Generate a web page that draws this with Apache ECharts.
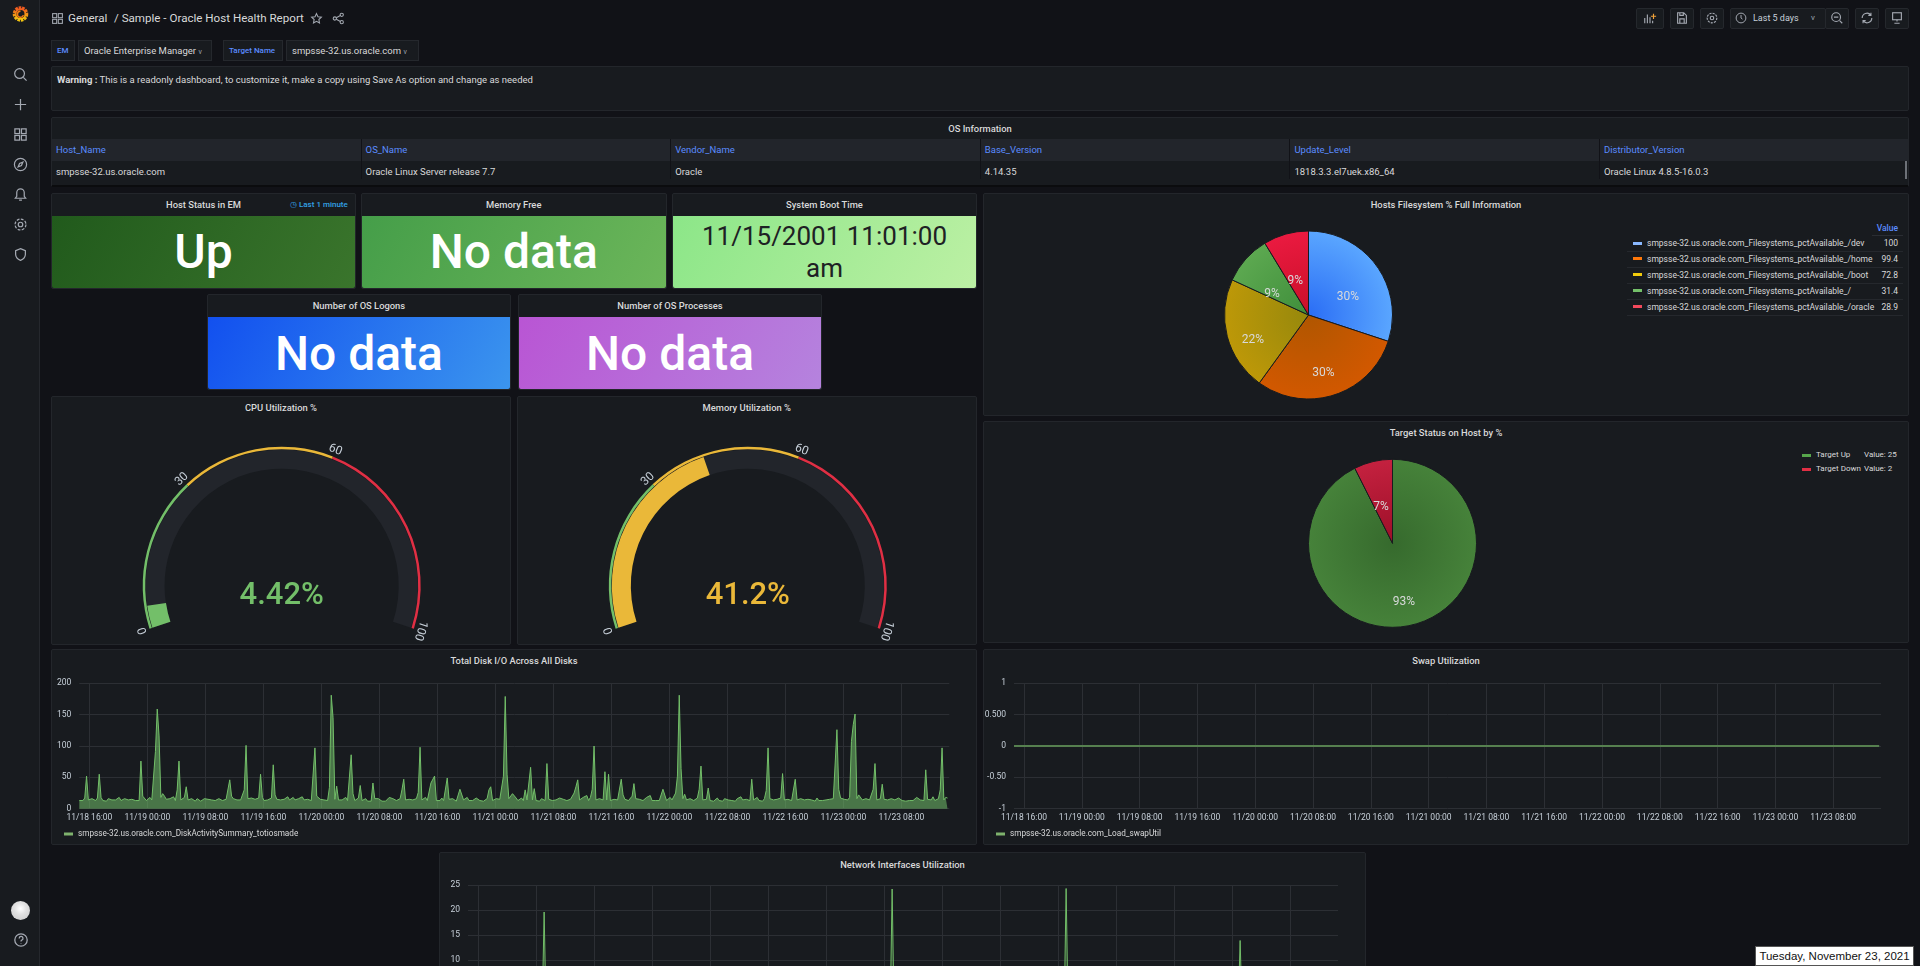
<!DOCTYPE html>
<html>
<head>
<meta charset="utf-8">
<title>Sample - Oracle Host Health Report</title>
<script src="https://cdn.jsdelivr.net/npm/echarts@6/dist/echarts.min.js"></script>
<style>
  html, body { margin: 0; padding: 0; width: 1920px; height: 966px; overflow: hidden; background: #111217; font-family: Roboto, sans-serif; color: #d8d9da; }
  .abs { position: absolute; box-sizing: border-box; white-space: nowrap; }
  .panel { position: absolute; box-sizing: border-box; background: #181b1f; border: 1px solid #23262b; border-radius: 2px; }
  .ptitle { position: absolute; left: 0; right: 0; text-align: center; font-size: 9.4px; font-weight: 500; color: #d8d9da; line-height: 12px; }
  .stat { position: absolute; left: 0; right: 0; bottom: 0; border-radius: 0 0 2px 2px; display: flex; align-items: center; justify-content: center; text-align: center; color: #fff; font-weight: 500; font-size: 48px; }
  .cell { position: absolute; font-size: 9.5px; line-height: 18px; white-space: nowrap; }
  .btn { position: absolute; top: 8px; height: 21px; background: #181b1f; border: 1px solid #25282d; box-sizing: border-box; border-radius: 2px; }
  .var { position: absolute; top: 40px; height: 21px; line-height: 19px; box-sizing: border-box; background: #181b1f; border: 1px solid #25282d; font-size: 9.5px; padding-left: 5px; white-space: nowrap; }
  svg { position: absolute; }
  svg.ic * { fill: none; stroke: #a4a9b2; stroke-width: 1.3; }
  #chart { position: absolute; left: 0; top: 0; width: 1920px; height: 966px; pointer-events: none; }
  .lg { position: absolute; font-size: 8.5px; line-height: 12px; white-space: nowrap; color: #d8d9da; }
</style>
</head>
<body>
<div id="page"></div>
<div id="chart"></div>
<script>
// chart data
var xTickLabels = ['11/18 16:00', '11/19 00:00', '11/19 08:00', '11/19 16:00', '11/20 00:00', '11/20 08:00', '11/20 16:00', '11/21 00:00', '11/21 08:00', '11/21 16:00', '11/22 00:00', '11/22 08:00', '11/22 16:00', '11/23 00:00', '11/23 08:00'];

var diskValues = [
  13, 14, 13, 17, 52, 14, 12, 16, 14, 13, 17, 55, 18, 13, 15, 12, 16, 13, 14, 13,
  14, 17, 18, 13, 15, 16, 13, 14, 12, 15, 16, 13, 15, 13, 76, 20, 18, 13, 15, 18,
  14, 13, 91, 159, 116, 18, 24, 20, 15, 13, 16, 18, 19, 13, 30, 76, 14, 13, 18, 35,
  14, 13, 16, 14, 12, 16, 13, 12, 14, 16, 17, 15, 13, 14, 16, 13, 12, 16, 14, 13,
  13, 15, 17, 46, 20, 16, 19, 14, 13, 14, 17, 30, 101, 16, 13, 17, 18, 15, 13, 17,
  55, 18, 13, 16, 14, 13, 17, 70, 22, 15, 13, 14, 13, 15, 16, 19, 14, 16, 18, 14,
  13, 16, 18, 19, 14, 13, 15, 16, 13, 13, 97, 20, 17, 15, 18, 14, 13, 13, 34, 181,
  145, 15, 36, 14, 13, 14, 17, 18, 13, 12, 86, 24, 13, 12, 17, 37, 13, 14, 16, 12,
  13, 12, 41, 16, 13, 16, 13, 12, 13, 12, 15, 18, 20, 16, 14, 13, 13, 16, 30, 47,
  14, 13, 15, 17, 14, 13, 16, 26, 98, 14, 13, 18, 13, 14, 41, 38, 52, 13, 16, 13,
  17, 13, 16, 49, 15, 13, 16, 13, 12, 14, 31, 28, 14, 16, 18, 13, 14, 13, 14, 17,
  16, 13, 15, 12, 13, 16, 30, 35, 13, 14, 16, 13, 15, 13, 52, 179, 55, 16, 18, 24,
  23, 17, 13, 15, 17, 13, 30, 14, 13, 66, 14, 32, 13, 15, 12, 16, 13, 13, 72, 15,
  14, 13, 16, 14, 13, 17, 18, 15, 16, 13, 12, 15, 17, 25, 35, 46, 14, 13, 18, 20,
  21, 13, 18, 31, 100, 14, 13, 16, 13, 14, 59, 14, 55, 13, 16, 15, 13, 14, 16, 47,
  22, 15, 14, 13, 12, 20, 40, 16, 13, 15, 14, 13, 16, 18, 15, 21, 13, 15, 13, 14,
  13, 14, 31, 28, 13, 15, 18, 14, 13, 25, 52, 181, 64, 16, 23, 14, 13, 16, 14, 13,
  14, 17, 31, 68, 14, 13, 15, 33, 13, 14, 12, 15, 17, 13, 14, 12, 16, 18, 14, 15,
  13, 14, 12, 16, 18, 19, 14, 13, 15, 14, 13, 47, 14, 15, 18, 13, 14, 12, 16, 29,
  97, 16, 18, 14, 13, 15, 13, 17, 56, 14, 13, 15, 14, 13, 16, 47, 14, 13, 16, 13,
  14, 13, 15, 16, 14, 13, 12, 17, 13, 15, 13, 16, 14, 12, 15, 13, 16, 14, 126, 31,
  17, 14, 15, 13, 14, 18, 107, 134, 151, 16, 22, 24, 14, 13, 16, 18, 14, 15, 31, 72,
  14, 13, 16, 39, 15, 13, 14, 12, 16, 13, 14, 16, 17, 14, 13, 15, 12, 14, 13, 13,
  13, 16, 18, 17, 14, 15, 13, 62, 15, 18, 14, 19, 13, 15, 16, 30, 97, 14, 18, 17
];

// sample numbers (15 minute steps) and values
var swapSamples = [0, 96, 192, 288, 384, 479];
var swapValues = [0, 0, 0, 0, 0, 0];
var netSamples = [0, 41, 42, 43, 233, 234, 235, 329, 330, 331, 425, 426, 427, 479];
var netValues = [1, 1, 19.6, 1, 1, 24.2, 1, 1, 24.3, 1, 1, 13.9, 1, 1];

var fsNames = ['smpsse-32.us.oracle.com_Filesystems_pctAvailable_/dev', 'smpsse-32.us.oracle.com_Filesystems_pctAvailable_/home', 'smpsse-32.us.oracle.com_Filesystems_pctAvailable_/boot', 'smpsse-32.us.oracle.com_Filesystems_pctAvailable_/', 'smpsse-32.us.oracle.com_Filesystems_pctAvailable_/oracle'];
var fsValues = [100, 99.4, 72.8, 31.4, 28.9];
var fsInner = ['#2a6df5', '#b05600', '#96880c', '#3f8e3b', '#c90f28'];
var fsOuter = ['#5aa6ff', '#d25800', '#bd9808', '#5ca850', '#ea1a40'];
var fsSwatch = ['#8ab8ff', '#ff780a', '#f2cc0c', '#73bf69', '#f2495c'];

var targetNames = ['Target Up', 'Target Down'];
var targetValues = [25, 2];
var targetInner = ['#366a2d', '#9c0f28'];
var targetOuter = ['#46823a', '#c4213f'];
var targetSwatch = ['#56a64b', '#e02f44'];

var gaugeTicks = [0, 30, 60, 100];
var gaugeSteps = [[0.3, '#73bf69'], [0.6, '#eab839'], [1, '#e02f44']];
var cpuValue = 4.42;
var memValue = 41.2;

var swapTickLabels = { '1': '1', '0.5': '0.500', '0': '0', '-0.5': '-0.50', '-1': '-1' };

var tableColumns = ['Host_Name', 'OS_Name', 'Vendor_Name', 'Base_Version', 'Update_Level', 'Distributor_Version'];
var tableRow = ['smpsse-32.us.oracle.com', 'Oracle Linux Server release 7.7', 'Oracle', '4.14.35', '1818.3.3.el7uek.x86_64', 'Oracle Linux 4.8.5-16.0.3'];

// page chrome
var html = '';
function panel(x, y, w, h, title, titleTop) {
  return '<div class="panel" style="left:' + x + 'px;top:' + y + 'px;width:' + w + 'px;height:' + h + 'px">' +
    (title ? '<div class="ptitle" style="top:' + (titleTop || 5) + 'px">' + title + '</div>' : '') + '</div>';
}
function statPanel(x, y, w, h, title, from, to, text, extra) {
  return '<div class="panel" style="left:' + x + 'px;top:' + y + 'px;width:' + w + 'px;height:' + h + 'px">' +
    '<div class="ptitle" style="top:5px">' + title + '</div>' +
    '<div class="stat" style="top:22px;background:linear-gradient(120deg,' + from + ',' + to + ');' + (extra || '') + '">' + text + '</div></div>';
}
function icon(x, y, s, body, cls) {
  return '<svg class="' + (cls || 'ic') + '" style="left:' + x + 'px;top:' + y + 'px" width="' + s + '" height="' + s + '" viewBox="0 0 16 16">' + body + '</svg>';
}

// sidebar
html += '<div class="abs" style="left:0;top:0;width:40px;height:966px;background:#181b1f;border-right:1px solid #25282d"></div>';
html += '<svg style="left:11px;top:4px" width="19" height="19" viewBox="0 0 20 20"><defs><linearGradient id="lg" x1="0" y1="1" x2="0" y2="0"><stop offset="0" stop-color="#f2c40f"/><stop offset="1" stop-color="#f0591f"/></linearGradient></defs><circle cx="10" cy="10.5" r="6.5" fill="none" stroke="url(#lg)" stroke-width="3.4" stroke-dasharray="2.6 0.9"/><circle cx="10" cy="10.5" r="5.2" fill="none" stroke="url(#lg)" stroke-width="2"/><path d="M10 7.5a3.2 3.2 0 1 0 3 4.2" fill="none" stroke="#f27b16" stroke-width="1.6"/></svg>';
html += icon(13, 67, 15, '<circle cx="7" cy="7" r="5.2"/><path d="M11 11l3.5 3.5"/>');
html += icon(13, 97, 15, '<path d="M8 2v12M2 8h12"/>');
html += icon(13, 127, 15, '<rect x="2" y="2" width="5" height="5"/><rect x="9" y="2" width="5" height="5"/><rect x="2" y="9" width="5" height="5"/><rect x="9" y="9" width="5" height="5"/>');
html += icon(13, 157, 15, '<circle cx="8" cy="8" r="6.5"/><path d="M10.5 5.5L9 9l-3.5 1.5L7 7z"/>');
html += icon(13, 187, 15, '<path d="M8 2a4 4 0 0 0-4 4v4l-1.5 2h11L12 10V6a4 4 0 0 0-4-4zM6.5 14h3"/>');
html += icon(13, 217, 15, '<circle cx="8" cy="8" r="2.4"/><circle cx="8" cy="8" r="5.8" stroke-dasharray="3 1.5"/>');
html += icon(13, 247, 15, '<path d="M8 1.8l5.2 2v4c0 3.4-2.3 5.4-5.2 6.4-2.9-1-5.2-3-5.2-6.4v-4z"/>');
html += '<div class="abs" style="left:11px;top:901px;width:19px;height:19px;border-radius:50%;background:radial-gradient(circle at 50% 40%,#fff 0,#e2e2e2 38%,#c8c8c8 100%)"></div>';
html += icon(13, 932, 16, '<circle cx="8" cy="8" r="6.2"/><path d="M6.2 6.4a1.9 1.9 0 1 1 2.6 1.7c-.6.3-.8.6-.8 1.3M8 11.2v.6"/>');

// top bar
html += icon(51, 12, 13, '<rect x="2" y="2" width="5" height="5"/><rect x="9" y="2" width="5" height="5"/><rect x="2" y="9" width="5" height="5"/><rect x="9" y="9" width="5" height="5"/>');
html += '<div class="abs" style="left:68px;top:11px;font-size:11.6px;line-height:14px;color:#d8d9da">General</div>';
html += '<div class="abs" style="left:114px;top:11px;font-size:11.6px;line-height:14px;color:#d8d9da">/ Sample - Oracle Host Health Report</div>';
html += icon(310, 12, 13, '<path d="M8 2l1.8 3.9 4.2.5-3.100 2.900.8 4.200L8 11.400 4.300 13.500l.8-4.200L2 6.400l4.200-.5z"/>');
html += icon(332, 12, 13, '<circle cx="3.500" cy="8" r="2"/><circle cx="12" cy="3.500" r="2"/><circle cx="12" cy="12.500" r="2"/><path d="M5.300 7l5-2.600M5.300 9l5 2.600"/>');
html += '<div class="btn" style="left:1636px;width:28px"></div>' + icon(1643, 11, 14, '<path d="M2 14V8M5 14V4M8 14V7M11 14v-3" /><path d="M12 3v6M9 6h6" style="stroke:#f2a33a"/>');
html += '<div class="btn" style="left:1670px;width:24px"></div>' + icon(1675, 11, 14, '<path d="M3 2h7l3 3v9H3zM5.500 2v3h4V2M5.500 14v-5h5v5"/>');
html += '<div class="btn" style="left:1700px;width:24px"></div>' + icon(1705, 11, 14, '<circle cx="8" cy="8" r="2"/><circle cx="8" cy="8" r="5.500" stroke-dasharray="2.500 1.200"/>');
html += '<div class="btn" style="left:1730px;width:96px"></div>' + icon(1735, 12, 12, '<circle cx="8" cy="8" r="6.500"/><path d="M8 4v4l2 1.500"/>');
html += '<div class="abs" style="left:1753px;top:13px;font-size:9px;line-height:11px;color:#c7d0d9">Last 5 days</div>';
html += '<div class="abs" style="left:1811px;top:13px;font-size:8px;line-height:10px;color:#9fa7b3">v</div>';
html += '<div class="btn" style="left:1825px;width:24px"></div>' + icon(1830, 11, 14, '<circle cx="7" cy="7" r="5"/><path d="M4.500 7h5M11 11l3 3"/>');
html += '<div class="btn" style="left:1855px;width:24px"></div>' + icon(1860, 11, 14, '<path d="M13.500 8a5.500 5.500 0 0 1-9.800 3.400M2.500 8a5.500 5.500 0 0 1 9.800-3.400M12.500 2v3h-3M3.500 14v-3h3"/>');
html += '<div class="btn" style="left:1885px;width:24px"></div>' + icon(1890, 11, 14, '<rect x="3" y="2" width="10" height="8"/><path d="M8 10v2M5 14h6"/>');

// template variables
html += '<div class="var" style="left:51px;width:24px;color:#5b8cff;font-weight:500;font-size:8px">EM</div>';
html += '<div class="var" style="left:78px;width:134px">Oracle Enterprise Manager <span style="font-size:7px;color:#9fa7b3">v</span></div>';
html += '<div class="var" style="left:223px;width:60px;color:#5b8cff;font-weight:500;font-size:8px">Target Name</div>';
html += '<div class="var" style="left:286px;width:133px">smpsse-32.us.oracle.com <span style="font-size:7px;color:#9fa7b3">v</span></div>';

// warning text
html += panel(51, 66, 1858, 45);
html += '<div class="abs" style="left:57px;top:74px;font-size:9.5px;line-height:12px;color:#d8d9da"><b style="font-weight:700">Warning :</b> This is a readonly dashboard, to customize it, make a copy using Save As option and change as needed</div>';

// os information table
html += panel(51, 117, 1858, 70, 'OS Information', 5);
html += '<div class="abs" style="left:52px;top:139px;width:1856px;height:22px;background:#22252b"></div>';
html += '<div class="abs" style="left:52px;top:185px;width:1856px;height:2px;background:#0b0c0e"></div>';
tableColumns.forEach(function (c, i) {
  var x = 51 + i * 309.6;
  if (i > 0) html += '<div class="abs" style="left:' + x + 'px;top:139px;width:1px;height:40px;background:#111217"></div>';
  html += '<div class="cell" style="left:' + (x + 5) + 'px;top:141px;color:#5b8cff">' + c + '</div>';
  html += '<div class="cell" style="left:' + (x + 5) + 'px;top:163px;color:#d8d9da">' + tableRow[i] + '</div>';
});
html += '<div class="abs" style="left:1905px;top:161px;width:2px;height:18px;background:#6d7178"></div>';

// stat panels
html += statPanel(51, 193, 305, 96, 'Host Status in EM', '#215a1c', '#3a752c', 'Up', 'padding-bottom:2px;');
html += '<div class="abs" style="left:290px;top:200px;font-size:8px;line-height:10px;font-weight:500;color:#33a2e5">&#9719; Last 1 minute</div>';
html += statPanel(361, 193, 305.5, 96, 'Memory Free', '#459e49', '#6cb65a', 'No data', 'padding-bottom:2px;');
html += statPanel(672, 193, 305, 96, 'System Boot Time', '#8ce688', '#bcf0a4', '11/15/2001 11:01:00<br>am', 'color:#1e2124;font-size:26px;font-weight:400;line-height:32px;');
html += statPanel(206.7, 294, 304.5, 96, 'Number of OS Logons', '#1250ef', '#3b95ee', 'No data');
html += statPanel(518, 294, 304, 96, 'Number of OS Processes', '#b955d4', '#b583de', 'No data');

// chart panels
html += panel(983, 193, 926, 223, 'Hosts Filesystem % Full Information');
html += panel(51, 396, 460, 249, 'CPU Utilization %', 5);
html += panel(516.5, 396, 460.5, 249, 'Memory Utilization %', 5);
html += panel(983, 421, 926, 222, 'Target Status on Host by %', 5);
html += panel(51, 649, 926, 196, 'Total Disk I/O Across All Disks', 5);
html += panel(983, 649, 926, 196, 'Swap Utilization', 5);
html += panel(439, 852, 927, 200, 'Network Interfaces Utilization', 6);

// pie legends
html += '<div class="lg" style="right:22px;top:222px;color:#5b8cff;font-weight:500">Value</div>';
html += '<div class="abs" style="left:1872px;top:235px;width:31px;height:1px;background:#2a2d33"></div>';
fsNames.forEach(function (n, i) {
  var y = 237 + i * 15.9;
  html += '<div class="abs" style="left:1633px;top:' + (y + 4.5) + 'px;width:9px;height:3px;background:' + fsSwatch[i] + '"></div>';
  html += '<div class="lg" style="left:1647px;top:' + y + 'px">' + n + '</div>';
  html += '<div class="lg" style="right:22px;top:' + y + 'px">' + fsValues[i] + '</div>';
  html += '<div class="abs" style="left:1627px;top:' + (y + 14) + 'px;width:276px;height:1px;background:#25282d"></div>';
});
targetNames.forEach(function (n, i) {
  var y = 449 + i * 14;
  html += '<div class="abs" style="left:1802px;top:' + (y + 4.5) + 'px;width:9px;height:3px;background:' + targetSwatch[i] + '"></div>';
  html += '<div class="lg" style="left:1816px;top:' + y + 'px;font-size:8px">' + n + '</div>';
  html += '<div class="lg" style="left:1864px;top:' + y + 'px;font-size:8px">Value: ' + targetValues[i] + '</div>';
});

// date popup
html += '<div class="abs" style="left:1755px;top:946px;width:159px;height:20px;background:#fff;border:1px solid #555;color:#111;font-family:\'Liberation Sans\',sans-serif;font-size:11.5px;line-height:18px;text-align:center">Tuesday, November 23, 2021</div>';
document.getElementById('page').innerHTML = html;

// time helpers
var STEP = 15 * 60 * 1000;
var START = new Date(2021, 10, 18, 14, 37).getTime();
var END = START + 480 * STEP;
function sampleTime(i) { return START + i * STEP; }
var tickTimes = xTickLabels.map(function (s) {
  var m = s.match(/(\d+)\/(\d+) (\d+):(\d+)/);
  return new Date(2021, +m[1] - 1, +m[2], +m[3], +m[4]).getTime();
});
function tickName(v) { return xTickLabels[tickTimes.indexOf(v)] || ''; }

var AXIS_TEXT = '#c7d0d9';
var GRID_LINE = '#2c2f34';
var FONT = 'Roboto';

// value axis on milliseconds: the time axis has no 8 hour tick step
function timeAxis(gridIndex) {
  return {
    type: 'value', gridIndex: gridIndex, min: START, max: END, scale: true,
    axisLine: { show: false },
    axisTick: { show: false, customValues: tickTimes },
    splitLine: { show: true, lineStyle: { color: GRID_LINE, width: 1 } },
    axisLabel: { customValues: tickTimes, formatter: tickName, color: AXIS_TEXT, fontSize: 8.5, fontFamily: FONT, margin: 5, hideOverlap: false, showMinLabel: true, showMaxLabel: true }
  };
}
function valueAxis(gridIndex, min, max, interval, fmt) {
  return {
    type: 'value', gridIndex: gridIndex, min: min, max: max, interval: interval,
    axisLine: { show: false }, axisTick: { show: false },
    splitLine: { show: true, lineStyle: { color: GRID_LINE, width: 1 } },
    axisLabel: { color: AXIS_TEXT, fontSize: 8.5, fontFamily: FONT, margin: 8, formatter: fmt }
  };
}
function pieData(names, values, inner, outer, cx, cy, r, labelShift) {
  return values.map(function (v, i) {
    return {
      name: names[i], value: v,
      label: { offset: labelShift[i] },
      itemStyle: {
        color: { type: 'radial', x: cx, y: cy, r: r, global: true, colorStops: [{ offset: 0, color: inner[i] }, { offset: 1, color: outer[i] }] },
        borderColor: '#181b1f', borderWidth: 1
      }
    };
  });
}
function pieSeries(names, values, inner, outer, cx, cy, labelShift) {
  return {
    type: 'pie', center: [cx, cy], radius: 84, startAngle: 90, clockwise: true, silent: true,
    data: pieData(names, values, inner, outer, cx, cy, 84, labelShift),
    label: { show: true, position: 'inside', formatter: function (p) { return Math.round(p.percent) + '%'; }, color: '#d8d9da', fontSize: 12, fontFamily: FONT },
    labelLine: { show: false }
  };
}
function gaugeRing(cx, cy) {
  return {
    type: 'gauge', center: [cx, cy], radius: 139, startAngle: 198, endAngle: -18, min: 0, max: 100, splitNumber: 10,
    axisLine: { lineStyle: { width: 2.5, color: gaugeSteps } },
    axisTick: { show: false }, splitLine: { show: false, length: 0, distance: 0 }, pointer: { show: false },
    axisLabel: {
      distance: -7, rotate: 'tangential', color: AXIS_TEXT, fontSize: 12, fontFamily: FONT, align: 'center', verticalAlign: 'middle',
      formatter: function (v) { return gaugeTicks.indexOf(v) >= 0 ? String(v) : ''; }
    },
    title: { show: false }, detail: { show: false }, silent: true, data: [{ value: 0 }]
  };
}
function gaugeBar(cx, cy, value, color) {
  return {
    type: 'gauge', center: [cx, cy], radius: 136, startAngle: 198, endAngle: -18, min: 0, max: 100,
    axisLine: { lineStyle: { width: 19, color: [[1, '#22252b']] } },
    progress: { show: true, width: 19, itemStyle: { color: color } },
    axisTick: { show: false }, splitLine: { show: false }, axisLabel: { show: false }, pointer: { show: false }, title: { show: false },
    detail: { valueAnimation: false, offsetCenter: [0, 10.5], formatter: value + '%', color: color, fontSize: 31, fontWeight: 500, fontFamily: FONT },
    silent: true, data: [{ value: value }]
  };
}

var myChart = echarts.init(document.getElementById('chart'));
var option = {
  backgroundColor: 'transparent',
  animation: false,
  textStyle: { fontFamily: FONT },
  grid: [
    { left: 79.3, top: 683.3, width: 870, height: 125.4, outerBoundsMode: 'none' },
    { left: 1014, top: 683.3, width: 867, height: 125.4, outerBoundsMode: 'none' },
    { left: 468, top: 885, width: 870, height: 125, outerBoundsMode: 'none' }
  ],
  xAxis: [timeAxis(0), timeAxis(1), timeAxis(2)],
  yAxis: [
    valueAxis(0, 0, 200, 50),
    valueAxis(1, -1, 1, 0.5, function (v) { return swapTickLabels[String(v)]; }),
    valueAxis(2, 0, 25, 5)
  ],
  legend: [
    { left: 64, top: 830, padding: 0, icon: 'rect', itemWidth: 9, itemHeight: 3, data: ['smpsse-32.us.oracle.com_DiskActivitySummary_totiosmade'], textStyle: { color: '#d8d9da', fontSize: 8.2 } },
    { left: 996, top: 830, padding: 0, icon: 'rect', itemWidth: 9, itemHeight: 3, data: ['smpsse-32.us.oracle.com_Load_swapUtil'], textStyle: { color: '#d8d9da', fontSize: 8.2 } }
  ],
  series: [
    {
      name: 'smpsse-32.us.oracle.com_DiskActivitySummary_totiosmade', type: 'line', xAxisIndex: 0, yAxisIndex: 0, showSymbol: false, silent: true,
      itemStyle: { color: '#7eb26d' }, lineStyle: { width: 1, color: '#73bf69' }, areaStyle: { color: '#73bf69', opacity: 0.55 },
      data: diskValues.map(function (v, i) { return [sampleTime(i), v]; })
    },
    {
      name: 'smpsse-32.us.oracle.com_Load_swapUtil', type: 'line', xAxisIndex: 1, yAxisIndex: 1, showSymbol: false, silent: true,
      itemStyle: { color: '#7eb26d' }, lineStyle: { width: 2, color: '#56804f' },
      data: swapValues.map(function (v, i) { return [sampleTime(swapSamples[i]), v]; })
    },
    {
      name: 'Network', type: 'line', xAxisIndex: 2, yAxisIndex: 2, showSymbol: false, silent: true,
      itemStyle: { color: '#7eb26d' }, lineStyle: { width: 1, color: '#73bf69' }, areaStyle: { color: '#73bf69', opacity: 0.2 },
      data: netValues.map(function (v, i) { return [sampleTime(netSamples[i]), v]; })
    },
    pieSeries(fsNames, fsValues, fsInner, fsOuter, 1308.5, 315, [[3, 8], [1, 15], [-12, 14], [-3, 9], [-1, 9]]),
    pieSeries(targetNames, targetValues, targetInner, targetOuter, 1392.5, 543.3, [[1, 15], [-1, 7]]),
    gaugeBar(281.7, 585.7, cpuValue, '#73bf69'),
    gaugeRing(281.7, 585.7),
    gaugeBar(747.8, 585.7, memValue, '#eab839'),
    gaugeRing(747.8, 585.7)
  ]
};
myChart.setOption(option);
window.addEventListener('resize', function () {
  myChart.resize();
});
</script>
</body>
</html>
